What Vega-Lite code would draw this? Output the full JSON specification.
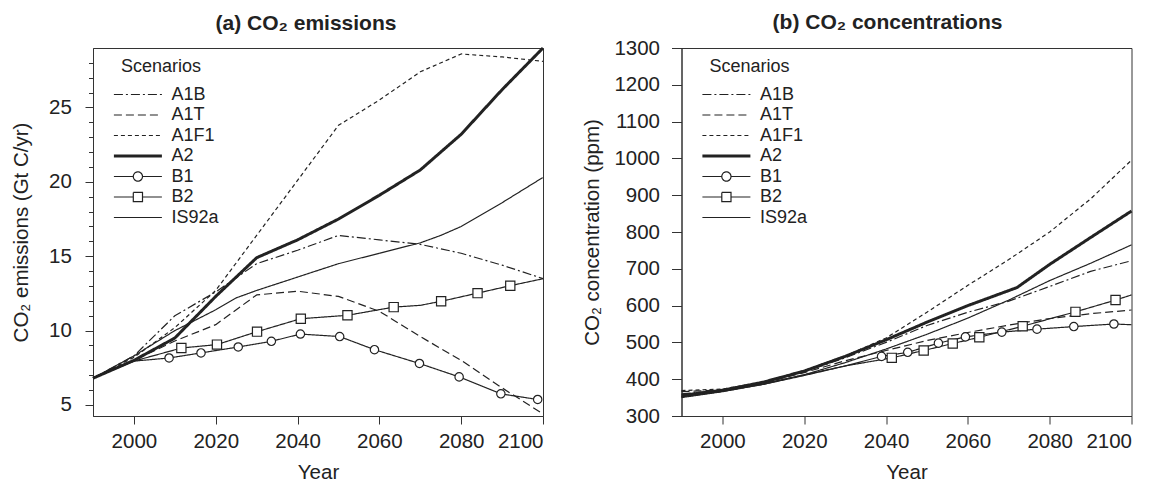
{
  "$schema": "https://vega.github.io/schema/vega-lite/v6.json",
  "padding": {"left": 11, "top": 11, "right": 0, "bottom": 0},
  "spacing": 138.5,
  "bounds": "flush",
  "resolve": {"scale": {"strokeDash": "independent", "strokeWidth": "independent", "shape": "independent", "size": "independent"}, "legend": {"strokeDash": "independent", "strokeWidth": "independent"}},
  "datasets": {
    "emis": [
      {"scenario": "A1B", "year": 1990, "value": 6.8}, {"scenario": "A1B", "year": 2000, "value": 8.3}, {"scenario": "A1B", "year": 2010, "value": 11.0}, {"scenario": "A1B", "year": 2020, "value": 12.6}, {"scenario": "A1B", "year": 2030, "value": 14.5}, {"scenario": "A1B", "year": 2040, "value": 15.4}, {"scenario": "A1B", "year": 2050, "value": 16.4}, {"scenario": "A1B", "year": 2060, "value": 16.1}, {"scenario": "A1B", "year": 2070, "value": 15.8}, {"scenario": "A1B", "year": 2080, "value": 15.2}, {"scenario": "A1B", "year": 2090, "value": 14.4}, {"scenario": "A1B", "year": 2100, "value": 13.5},
      {"scenario": "A1T", "year": 1990, "value": 6.8}, {"scenario": "A1T", "year": 2000, "value": 8.0}, {"scenario": "A1T", "year": 2010, "value": 9.3}, {"scenario": "A1T", "year": 2020, "value": 10.4}, {"scenario": "A1T", "year": 2030, "value": 12.4}, {"scenario": "A1T", "year": 2040, "value": 12.65}, {"scenario": "A1T", "year": 2050, "value": 12.3}, {"scenario": "A1T", "year": 2060, "value": 11.3}, {"scenario": "A1T", "year": 2070, "value": 9.6}, {"scenario": "A1T", "year": 2080, "value": 8.0}, {"scenario": "A1T", "year": 2090, "value": 6.15}, {"scenario": "A1T", "year": 2100, "value": 4.4},
      {"scenario": "A1F1", "year": 1990, "value": 6.8}, {"scenario": "A1F1", "year": 2000, "value": 8.2}, {"scenario": "A1F1", "year": 2010, "value": 10.2}, {"scenario": "A1F1", "year": 2020, "value": 12.7}, {"scenario": "A1F1", "year": 2030, "value": 16.4}, {"scenario": "A1F1", "year": 2040, "value": 20.1}, {"scenario": "A1F1", "year": 2050, "value": 23.8}, {"scenario": "A1F1", "year": 2060, "value": 25.5}, {"scenario": "A1F1", "year": 2070, "value": 27.4}, {"scenario": "A1F1", "year": 2080, "value": 28.6}, {"scenario": "A1F1", "year": 2090, "value": 28.4}, {"scenario": "A1F1", "year": 2100, "value": 28.1},
      {"scenario": "A2", "year": 1990, "value": 6.8}, {"scenario": "A2", "year": 2000, "value": 8.0}, {"scenario": "A2", "year": 2010, "value": 9.5}, {"scenario": "A2", "year": 2020, "value": 12.3}, {"scenario": "A2", "year": 2030, "value": 14.9}, {"scenario": "A2", "year": 2040, "value": 16.1}, {"scenario": "A2", "year": 2050, "value": 17.5}, {"scenario": "A2", "year": 2060, "value": 19.1}, {"scenario": "A2", "year": 2070, "value": 20.8}, {"scenario": "A2", "year": 2080, "value": 23.2}, {"scenario": "A2", "year": 2090, "value": 26.2}, {"scenario": "A2", "year": 2100, "value": 29.0},
      {"scenario": "B1", "year": 1990, "value": 6.8}, {"scenario": "B1", "year": 2000, "value": 7.95}, {"scenario": "B1", "year": 2008.6, "value": 8.16}, {"scenario": "B1", "year": 2016.4, "value": 8.5}, {"scenario": "B1", "year": 2025.5, "value": 8.9}, {"scenario": "B1", "year": 2033.6, "value": 9.28}, {"scenario": "B1", "year": 2040.7, "value": 9.77}, {"scenario": "B1", "year": 2050.3, "value": 9.6}, {"scenario": "B1", "year": 2058.8, "value": 8.72}, {"scenario": "B1", "year": 2069.8, "value": 7.79}, {"scenario": "B1", "year": 2079.5, "value": 6.89}, {"scenario": "B1", "year": 2089.7, "value": 5.75}, {"scenario": "B1", "year": 2098.7, "value": 5.37},
      {"scenario": "B2", "year": 1990, "value": 6.8}, {"scenario": "B2", "year": 2000, "value": 7.95}, {"scenario": "B2", "year": 2011.6, "value": 8.83}, {"scenario": "B2", "year": 2020.3, "value": 9.06}, {"scenario": "B2", "year": 2030.1, "value": 9.93}, {"scenario": "B2", "year": 2040.8, "value": 10.8}, {"scenario": "B2", "year": 2052.2, "value": 11.03}, {"scenario": "B2", "year": 2063.5, "value": 11.58}, {"scenario": "B2", "year": 2070, "value": 11.7}, {"scenario": "B2", "year": 2075.1, "value": 11.97}, {"scenario": "B2", "year": 2084, "value": 12.52}, {"scenario": "B2", "year": 2092, "value": 13.02}, {"scenario": "B2", "year": 2100, "value": 13.49},
      {"scenario": "IS92a", "year": 1990, "value": 6.8}, {"scenario": "IS92a", "year": 2000, "value": 8.3}, {"scenario": "IS92a", "year": 2010, "value": 10.0}, {"scenario": "IS92a", "year": 2020, "value": 11.4}, {"scenario": "IS92a", "year": 2025, "value": 12.2}, {"scenario": "IS92a", "year": 2030, "value": 12.7}, {"scenario": "IS92a", "year": 2040, "value": 13.6}, {"scenario": "IS92a", "year": 2050, "value": 14.5}, {"scenario": "IS92a", "year": 2060, "value": 15.2}, {"scenario": "IS92a", "year": 2070, "value": 15.9}, {"scenario": "IS92a", "year": 2075, "value": 16.4}, {"scenario": "IS92a", "year": 2080, "value": 17.0}, {"scenario": "IS92a", "year": 2090, "value": 18.6}, {"scenario": "IS92a", "year": 2100, "value": 20.3}
    ],
    "emisPts": [
      {"scenario": "B1", "year": 2008.6, "value": 8.16}, {"scenario": "B1", "year": 2016.4, "value": 8.5}, {"scenario": "B1", "year": 2025.5, "value": 8.9}, {"scenario": "B1", "year": 2033.6, "value": 9.28}, {"scenario": "B1", "year": 2040.7, "value": 9.77}, {"scenario": "B1", "year": 2050.3, "value": 9.6}, {"scenario": "B1", "year": 2058.8, "value": 8.72}, {"scenario": "B1", "year": 2069.8, "value": 7.79}, {"scenario": "B1", "year": 2079.5, "value": 6.89}, {"scenario": "B1", "year": 2089.7, "value": 5.75}, {"scenario": "B1", "year": 2098.7, "value": 5.37},
      {"scenario": "B2", "year": 2011.6, "value": 8.83}, {"scenario": "B2", "year": 2020.3, "value": 9.06}, {"scenario": "B2", "year": 2030.1, "value": 9.93}, {"scenario": "B2", "year": 2040.8, "value": 10.8}, {"scenario": "B2", "year": 2052.2, "value": 11.03}, {"scenario": "B2", "year": 2063.5, "value": 11.58}, {"scenario": "B2", "year": 2075.1, "value": 11.97}, {"scenario": "B2", "year": 2084, "value": 12.52}, {"scenario": "B2", "year": 2092, "value": 13.02}
    ],
    "conc": [
      {"scenario": "A1B", "year": 1990, "value": 360}, {"scenario": "A1B", "year": 2000, "value": 370}, {"scenario": "A1B", "year": 2010, "value": 390}, {"scenario": "A1B", "year": 2020, "value": 420}, {"scenario": "A1B", "year": 2030, "value": 458}, {"scenario": "A1B", "year": 2040, "value": 500}, {"scenario": "A1B", "year": 2050, "value": 546}, {"scenario": "A1B", "year": 2060, "value": 582}, {"scenario": "A1B", "year": 2070, "value": 612}, {"scenario": "A1B", "year": 2080, "value": 652}, {"scenario": "A1B", "year": 2090, "value": 693}, {"scenario": "A1B", "year": 2100, "value": 722},
      {"scenario": "A1T", "year": 1990, "value": 366}, {"scenario": "A1T", "year": 2000, "value": 371}, {"scenario": "A1T", "year": 2010, "value": 390}, {"scenario": "A1T", "year": 2020, "value": 418}, {"scenario": "A1T", "year": 2030, "value": 450}, {"scenario": "A1T", "year": 2040, "value": 478}, {"scenario": "A1T", "year": 2050, "value": 505}, {"scenario": "A1T", "year": 2060, "value": 527}, {"scenario": "A1T", "year": 2070, "value": 547}, {"scenario": "A1T", "year": 2080, "value": 565}, {"scenario": "A1T", "year": 2090, "value": 578}, {"scenario": "A1T", "year": 2100, "value": 588},
      {"scenario": "A1F1", "year": 1990, "value": 369}, {"scenario": "A1F1", "year": 2000, "value": 373}, {"scenario": "A1F1", "year": 2010, "value": 393}, {"scenario": "A1F1", "year": 2020, "value": 424}, {"scenario": "A1F1", "year": 2030, "value": 463}, {"scenario": "A1F1", "year": 2040, "value": 512}, {"scenario": "A1F1", "year": 2050, "value": 582}, {"scenario": "A1F1", "year": 2060, "value": 655}, {"scenario": "A1F1", "year": 2070, "value": 725}, {"scenario": "A1F1", "year": 2080, "value": 800}, {"scenario": "A1F1", "year": 2090, "value": 890}, {"scenario": "A1F1", "year": 2100, "value": 995},
      {"scenario": "A2", "year": 1990, "value": 356}, {"scenario": "A2", "year": 2000, "value": 370}, {"scenario": "A2", "year": 2010, "value": 392}, {"scenario": "A2", "year": 2020, "value": 422}, {"scenario": "A2", "year": 2030, "value": 462}, {"scenario": "A2", "year": 2040, "value": 507}, {"scenario": "A2", "year": 2050, "value": 555}, {"scenario": "A2", "year": 2060, "value": 600}, {"scenario": "A2", "year": 2072, "value": 649}, {"scenario": "A2", "year": 2080, "value": 712}, {"scenario": "A2", "year": 2090, "value": 785}, {"scenario": "A2", "year": 2100, "value": 857},
      {"scenario": "B1", "year": 1990, "value": 352}, {"scenario": "B1", "year": 2000, "value": 367}, {"scenario": "B1", "year": 2010, "value": 386}, {"scenario": "B1", "year": 2020, "value": 410}, {"scenario": "B1", "year": 2030, "value": 436}, {"scenario": "B1", "year": 2038.9, "value": 462}, {"scenario": "B1", "year": 2045.3, "value": 473}, {"scenario": "B1", "year": 2052.8, "value": 498}, {"scenario": "B1", "year": 2059.4, "value": 515}, {"scenario": "B1", "year": 2068.3, "value": 528}, {"scenario": "B1", "year": 2076.9, "value": 536}, {"scenario": "B1", "year": 2085.9, "value": 543}, {"scenario": "B1", "year": 2095.7, "value": 550}, {"scenario": "B1", "year": 2100, "value": 548},
      {"scenario": "B2", "year": 1990, "value": 354}, {"scenario": "B2", "year": 2000, "value": 368}, {"scenario": "B2", "year": 2010, "value": 388}, {"scenario": "B2", "year": 2020, "value": 412}, {"scenario": "B2", "year": 2030, "value": 436}, {"scenario": "B2", "year": 2041.4, "value": 458}, {"scenario": "B2", "year": 2049.2, "value": 478}, {"scenario": "B2", "year": 2056.3, "value": 497}, {"scenario": "B2", "year": 2062.8, "value": 514}, {"scenario": "B2", "year": 2073.4, "value": 544}, {"scenario": "B2", "year": 2086.3, "value": 583}, {"scenario": "B2", "year": 2096.1, "value": 615}, {"scenario": "B2", "year": 2100, "value": 629},
      {"scenario": "IS92a", "year": 1990, "value": 350}, {"scenario": "IS92a", "year": 2000, "value": 366}, {"scenario": "IS92a", "year": 2010, "value": 386}, {"scenario": "IS92a", "year": 2020, "value": 412}, {"scenario": "IS92a", "year": 2030, "value": 445}, {"scenario": "IS92a", "year": 2040, "value": 482}, {"scenario": "IS92a", "year": 2050, "value": 522}, {"scenario": "IS92a", "year": 2060, "value": 566}, {"scenario": "IS92a", "year": 2070, "value": 615}, {"scenario": "IS92a", "year": 2080, "value": 668}, {"scenario": "IS92a", "year": 2090, "value": 715}, {"scenario": "IS92a", "year": 2100, "value": 765}
    ],
    "concPts": [
      {"scenario": "B1", "year": 2038.9, "value": 462}, {"scenario": "B1", "year": 2045.3, "value": 473}, {"scenario": "B1", "year": 2052.8, "value": 498}, {"scenario": "B1", "year": 2059.4, "value": 515}, {"scenario": "B1", "year": 2068.3, "value": 528}, {"scenario": "B1", "year": 2076.9, "value": 536}, {"scenario": "B1", "year": 2085.9, "value": 543}, {"scenario": "B1", "year": 2095.7, "value": 550},
      {"scenario": "B2", "year": 2041.4, "value": 458}, {"scenario": "B2", "year": 2049.2, "value": 478}, {"scenario": "B2", "year": 2056.3, "value": 497}, {"scenario": "B2", "year": 2062.8, "value": 514}, {"scenario": "B2", "year": 2073.4, "value": 544}, {"scenario": "B2", "year": 2086.3, "value": 583}, {"scenario": "B2", "year": 2096.1, "value": 615}
    ]
  },
  "hconcat": [
    {
      "width": 450,
      "height": 368,
      "title": {"text": "(a) CO₂ emissions", "dx": -12, "offset": 13},
      "encoding": {
        "x": {"field": "year", "type": "quantitative", "scale": {"domain": [1990, 2100], "nice": false, "zero": false},
              "axis": {"title": "Year", "values": [2000, 2020, 2040, 2060, 2080, 2100], "format": "d", "tickSize": 8, "labelPadding": 7, "titlePadding": 11}},
        "y": {"field": "value", "type": "quantitative", "scale": {"domain": [4.26, 29], "nice": false, "zero": false},
              "axis": {"title": "CO₂ emissions (Gt C/yr)", "values": [5,6,7,8,9,10,11,12,13,14,15,16,17,18,19,20,21,22,23,24,25,26,27,28],
                       "labelExpr": "datum.value % 5 === 0 ? datum.label : ''", "labelOverlap": false,
                       "tickSize": {"condition": {"test": "datum.value % 5 === 0", "value": 8}, "value": 4.5},
                       "labelPadding": 13.7, "titlePadding": 16.5}}
      },
      "layer": [
        {
          "data": {"name": "emis"},
          "mark": {"type": "line", "color": "#222", "strokeJoin": "round"},
          "encoding": {
            "strokeDash": {"field": "scenario", "type": "nominal",
                           "scale": {"type": "ordinal", "domain": ["A1B", "A1T", "A1F1", "A2", "B1", "B2", "IS92a"], "range": [[9, 3, 2, 3], [8, 4], [4, 3], [1, 0], [1, 0], [1, 0], [1, 0]]},
                           "legend": {"title": "Scenarios", "orient": "top-left", "offset": 10, "titleAnchor": "middle",
                                      "symbolType": {"expr": "datum.value === 'B1' ? 'M0.475,0H5.325A1.15,1.15 0 1,1 7.625,0A1.15,1.15 0 1,1 5.325,0M7.625,0H12.475' : datum.value === 'B2' ? 'M0.475,0H5.325V-1.15H7.625V1.15H5.325V0M7.625,0H12.475' : 'M0.475,0H12.475'"},
                                      "encode": {"symbols": {"strokeWidth": {"condition": {"test": "datum.value === 'A2'", "value": 3}, "value": 1.2},
                                                             "fill": {"value": "white"}, "stroke": {"value": "#222"}}}}},
            "strokeWidth": {"field": "scenario", "type": "nominal",
                            "scale": {"type": "ordinal", "domain": ["A1B", "A1T", "A1F1", "A2", "B1", "B2", "IS92a"], "range": [1.2, 1.2, 1.2, 3, 1.2, 1.2, 1.2]},
                            "legend": null}
          }
        },
        {
          "data": {"name": "emisPts"},
          "mark": {"type": "point", "filled": false, "fill": "white", "fillOpacity": 1, "stroke": "#222", "strokeWidth": 1.2, "opacity": 1},
          "encoding": {
            "shape": {"field": "scenario", "type": "nominal", "scale": {"domain": ["B1", "B2"], "range": ["circle", "square"]}, "legend": null},
            "size": {"field": "scenario", "type": "nominal", "scale": {"type": "ordinal", "domain": ["B1", "B2"], "range": [70, 85]}, "legend": null}
          }
        }
      ]
    },
    {
      "width": 450,
      "height": 368,
      "title": {"text": "(b) CO₂ concentrations", "dx": -19, "offset": 5},
      "encoding": {
        "x": {"field": "year", "type": "quantitative", "scale": {"domain": [1990, 2100], "nice": false, "zero": false},
              "axis": {"title": "Year", "values": [2000, 2020, 2040, 2060, 2080, 2100], "format": "d", "tickSize": 8, "labelPadding": 7, "titlePadding": 11}},
        "y": {"field": "value", "type": "quantitative", "scale": {"domain": [300, 1300], "nice": false, "zero": false},
              "axis": {"title": "CO₂ concentration (ppm)", "values": [300,400,500,600,700,800,900,1000,1100,1200,1300], "format": "d", "labelOverlap": false,
                       "tickSize": 10, "labelPadding": 12, "titlePadding": 11.5}}
      },
      "layer": [
        {
          "data": {"name": "conc"},
          "mark": {"type": "line", "color": "#222", "strokeJoin": "round"},
          "encoding": {
            "strokeDash": {"field": "scenario", "type": "nominal",
                           "scale": {"type": "ordinal", "domain": ["A1B", "A1T", "A1F1", "A2", "B1", "B2", "IS92a"], "range": [[9, 3, 2, 3], [8, 4], [4, 3], [1, 0], [1, 0], [1, 0], [1, 0]]},
                           "legend": {"title": "Scenarios", "orient": "top-left", "offset": 10, "titleAnchor": "middle",
                                      "symbolType": {"expr": "datum.value === 'B1' ? 'M0.475,0H5.325A1.15,1.15 0 1,1 7.625,0A1.15,1.15 0 1,1 5.325,0M7.625,0H12.475' : datum.value === 'B2' ? 'M0.475,0H5.325V-1.15H7.625V1.15H5.325V0M7.625,0H12.475' : 'M0.475,0H12.475'"},
                                      "encode": {"symbols": {"strokeWidth": {"condition": {"test": "datum.value === 'A2'", "value": 3}, "value": 1.2},
                                                             "fill": {"value": "white"}, "stroke": {"value": "#222"}}}}},
            "strokeWidth": {"field": "scenario", "type": "nominal",
                            "scale": {"type": "ordinal", "domain": ["A1B", "A1T", "A1F1", "A2", "B1", "B2", "IS92a"], "range": [1.2, 1.2, 1.2, 3, 1.2, 1.2, 1.2]},
                            "legend": null}
          }
        },
        {
          "data": {"name": "concPts"},
          "mark": {"type": "point", "filled": false, "fill": "white", "fillOpacity": 1, "stroke": "#222", "strokeWidth": 1.2, "opacity": 1},
          "encoding": {
            "shape": {"field": "scenario", "type": "nominal", "scale": {"domain": ["B1", "B2"], "range": ["circle", "square"]}, "legend": null},
            "size": {"field": "scenario", "type": "nominal", "scale": {"type": "ordinal", "domain": ["B1", "B2"], "range": [70, 85]}, "legend": null}
          }
        }
      ]
    }
  ],
  "config": {
    "font": "Liberation Sans",
    "view": {"stroke": "#333", "strokeWidth": 1},
    "title": {"fontSize": 21, "fontWeight": "bold", "color": "#222", "font": "Liberation Sans", "anchor": "middle", "frame": "group", "baseline": "alphabetic"},
    "axis": {"grid": false, "domainColor": "#333", "tickColor": "#333", "labelColor": "#222", "titleColor": "#222", "labelOverlap": false,
             "labelFontSize": 20.5, "titleFontSize": 20.5, "titleFontWeight": "normal", "labelFont": "Liberation Sans", "titleFont": "Liberation Sans"},
    "legend": {"titleFontSize": 18, "titleFontWeight": "normal", "titleColor": "#222", "labelFontSize": 18, "labelColor": "#222",
               "symbolSize": 64, "labelOffset": 50.4, "rowPadding": 2.5, "titlePadding": 9.5, "padding": 0,
               "titleFont": "Liberation Sans", "labelFont": "Liberation Sans"}
  }
}
